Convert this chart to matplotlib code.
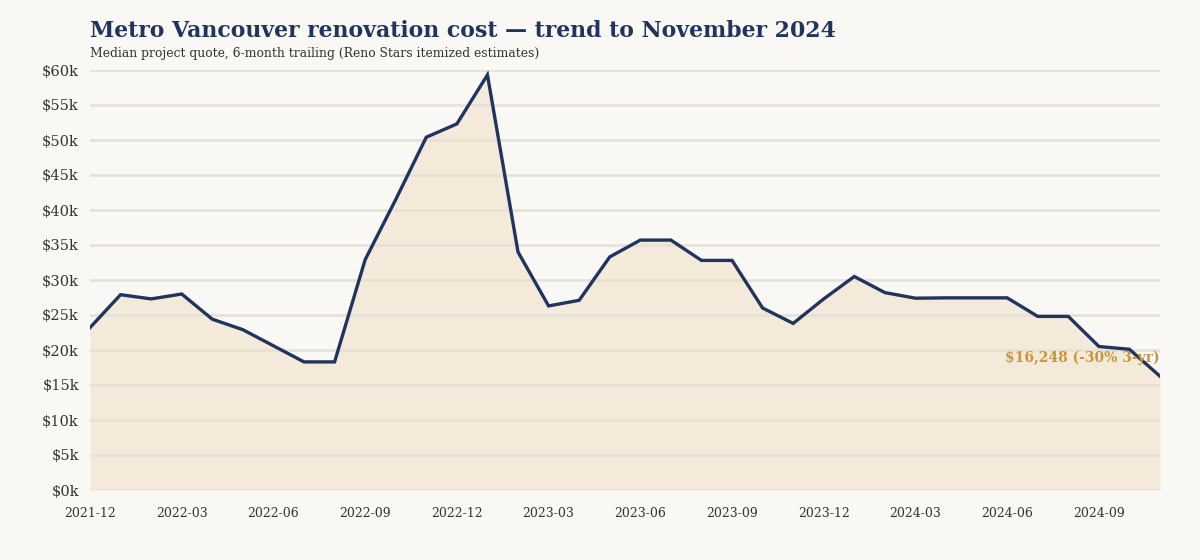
import pandas as pd
import matplotlib.pyplot as plt
from matplotlib.ticker import FuncFormatter

# Monthly median quote ($k), Dec 2021 - Nov 2024
months = pd.period_range('2021-12', '2024-11', freq='M').astype(str).tolist()
quote_k = [23.2, 27.9, 27.3, 28.0, 24.4, 22.9, 20.6, 18.3, 18.3, 32.9, 41.5, 50.4,
           52.3, 59.3, 34.0, 26.3, 27.1, 33.3, 35.7, 35.7, 32.8, 32.8, 26.0, 23.8,
           27.3, 30.5, 28.2, 27.4, 27.45, 27.45, 27.45, 24.8, 24.8, 20.5, 20.1, 16.25]
tick_labels = ['2021-12', '2022-03', '2022-06', '2022-09', '2022-12', '2023-03', '2023-06',
               '2023-09', '2023-12', '2024-03', '2024-06', '2024-09']
last_label = '$16,248 (-30% 3-yr)'

bg = '#faf8f4'
navy = '#1f3560'
gold = '#c9963a'

plt.rcParams['font.family'] = ['DejaVu Serif']

fig = plt.figure(figsize=(12, 5.6), dpi=100, facecolor=bg)
ax = fig.add_axes([0.075, 0.125, 0.8917, 0.75], facecolor=bg)

x = list(range(len(months)))
# fill sits under the gridlines so they show through
ax.fill_between(x, quote_k, 0, color='#f4ead9', lw=0, zorder=0.2)
ax.plot(x, quote_k, color=navy, lw=2.4, zorder=3, solid_joinstyle='miter')

ax.set_xlim(0, len(months) - 1)
ax.set_ylim(0, 60)
ax.set_yticks(range(0, 61, 5))
ax.yaxis.set_major_formatter(FuncFormatter(lambda v, p: f'${int(v)}k'))
ax.set_xticks([months.index(t) for t in tick_labels])
ax.set_xticklabels(tick_labels)
ax.grid(axis='y', color='#e6e0d6', lw=1.8)
ax.set_axisbelow(True)
for s in ax.spines.values():
    s.set_visible(False)
ax.tick_params(axis='both', length=0, colors='#333333')
ax.tick_params(axis='y', labelsize=10.5, pad=8)
ax.tick_params(axis='x', labelsize=9, pad=12)

ax.text(len(months) - 1, 18.9, last_label, color=gold, fontsize=10, fontweight='bold',
        ha='right', va='center', zorder=4)

fig.text(0.075, 0.945, 'Metro Vancouver renovation cost — trend to November 2024',
         fontsize=15.8, fontweight='bold', color=navy, va='center')
fig.text(0.075, 0.905, 'Median project quote, 6-month trailing (Reno Stars itemized estimates)',
         fontsize=8.9, color='#333333', va='center')

fig.savefig('out.png', dpi=100, facecolor=bg)
